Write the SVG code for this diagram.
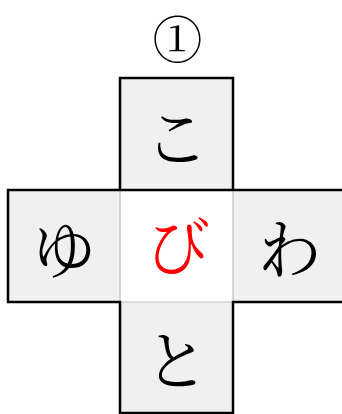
<svg xmlns="http://www.w3.org/2000/svg" width="342" height="414" viewBox="0 0 342 414">
<style>
.cell{fill:#f0f0f0;stroke:none}
.ch{font-family:"Noto Serif CJK JP","Noto Sans CJK JP",serif;font-size:64px;text-anchor:middle;dominant-baseline:central;fill:#000}
.inner{stroke:#c0c0c0;stroke-width:1.2;fill:none}
.outer{stroke:#000;stroke-width:2.5;fill:none}
</style>
<rect width="342" height="414" fill="#fff"/>
<text x="177.5" y="36" class="ch" style="font-size:50px">①</text>
<g id="top"><rect class="cell" x="120" y="78" width="113" height="112"/><text x="176.5" y="133" class="ch">こ</text></g>
<g id="left"><rect class="cell" x="8" y="190" width="112" height="112"/><text x="64" y="245" class="ch">ゆ</text></g>
<g id="center"><rect x="120" y="190" width="113" height="112" fill="#fff"/><text x="178" y="242" class="ch" style="fill:#ff0000">び</text></g>
<g id="right"><rect class="cell" x="233" y="190" width="113" height="112"/><text x="289.5" y="245" class="ch">わ</text></g>
<g id="bottom"><rect class="cell" x="120" y="302" width="113" height="111"/><text x="176.5" y="356" class="ch">と</text></g>
<g id="connectors">
<path class="inner" d="M120,190 V302 M233,190 V302 M120,302 H233"/>
<path class="outer" d="M120,78 H233 V190 H346 V302 H233 V413 H120 V302 H8 V190 H120 Z M120,190 H233"/>
</g>
</svg>
